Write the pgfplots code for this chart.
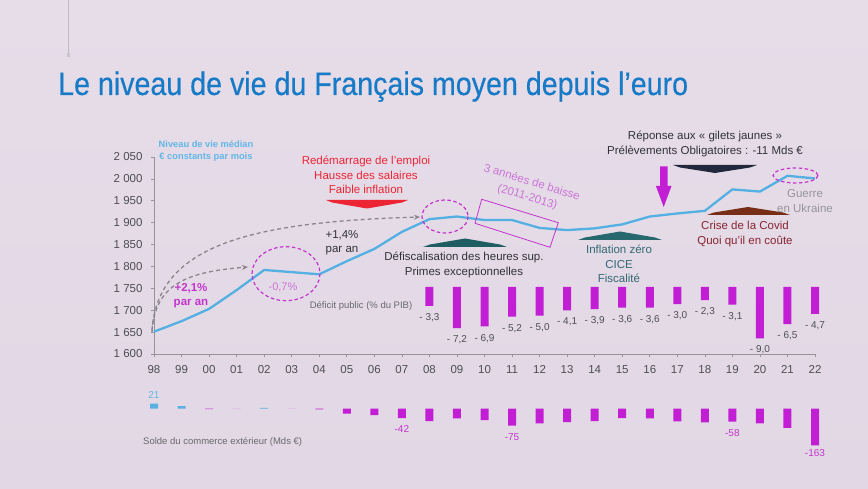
\documentclass[border=0pt]{standalone}
\usepackage{graphicx}
\usepackage{pgfplots}
\pgfplotsset{compat=1.18}
\usepackage{fontspec}
\setmainfont{Liberation Sans}
\newfontfamily\titlefont{Liberation Sans}[FakeBold=0.4]
\usetikzlibrary{arrows.meta}
\definecolor{bgtop}{RGB}{230,221,233}
\definecolor{bgmid}{RGB}{217,204,220}
\definecolor{bgbot}{RGB}{226,216,229}
\definecolor{titleblue}{RGB}{22,122,198}
\definecolor{lineblue}{RGB}{84,176,226}
\definecolor{labblue}{RGB}{98,182,230}
\definecolor{barmag}{RGB}{194,30,212}
\definecolor{txtmag}{RGB}{196,52,204}
\definecolor{lightmag}{RGB}{204,116,214}
\definecolor{ticktxt}{RGB}{78,78,84}
\definecolor{axgrey}{RGB}{150,148,154}
\definecolor{annred}{RGB}{236,36,52}
\definecolor{annteal}{RGB}{30,94,98}
\definecolor{annteal2}{RGB}{38,104,110}
\definecolor{txtteal}{RGB}{50,104,114}
\definecolor{annnavy}{RGB}{34,40,60}
\definecolor{annbrown}{RGB}{120,46,22}
\definecolor{txtcovid}{RGB}{136,36,48}
\definecolor{txtdark}{RGB}{50,50,56}
\definecolor{arrgrey}{RGB}{136,134,140}
\definecolor{guerregrey}{RGB}{150,148,154}
\definecolor{tradeblue}{RGB}{90,176,226}
\tikzset{ann/.style={font=\fontsize{11.5}{14.2}\selectfont, align=center, inner sep=0pt}}
\newcommand\dlab[3]{\node[anchor=north, inner sep=0pt, yshift=-7.5pt, font=\fontsize{10}{12}\selectfont, text=ticktxt] at (axis cs:#1,#2) {#3};}
\begin{document}
\begin{tikzpicture}[x=1pt,y=1pt]
\useasboundingbox (0,0) rectangle (868,489);
\shade[top color=bgtop, middle color=bgmid, bottom color=bgbot] (0,0) rectangle (868,489);

% ---------- main axis: niveau de vie ----------
\begin{axis}[at={(154pt,135pt)}, anchor=south west, scale only axis,
  width=661pt, height=197pt, clip=false,
  xmin=0, xmax=24, ymin=1600, ymax=2050,
  axis x line*=bottom, axis y line*=left,
  axis line style={axgrey, line width=0.8pt},
  tick style={axgrey, line width=0.6pt}, major tick length=3pt, tick align=outside,
  xtick={0,...,24},
  xticklabels={98,99,00,01,02,03,04,05,06,07,08,09,10,11,12,13,14,15,16,17,18,19,20,21,22},
  ytick={1600,1650,...,2050},
  yticklabels={1 600,1 650,1 700,1 750,1 800,1 850,1 900,1 950,2 000,2 050},
  /pgf/number format/assume math mode=true,
  ticklabel style={font=\fontsize{11.5}{13}\selectfont, text=ticktxt},
  yticklabel style={xshift=-5pt},
  xticklabel style={yshift=-5pt},
]
\addplot[lineblue, line width=2.3pt, line join=round] coordinates {
(0,1651)(1,1675)(2,1703)(3,1746)(4,1792)(5,1787)(6,1782)(7,1812)(8,1840)(9,1879)
(10,1908)(11,1914)(12,1906)(13,1906)(14,1888)(15,1883)(16,1887)(17,1896)(18,1914)
(19,1921)(20,1927)(21,1976)(22,1971)(23,2007)(24,2001)};
\end{axis}

% ---------- deficit public axis ----------
\begin{axis}[at={(154pt,135pt)}, anchor=south west, scale only axis,
  width=661pt, height=197pt, clip=false, hide axis,
  xmin=0, xmax=24, ymin=-11.75, ymax=22.8]
\addplot[ybar, bar width=8pt, bar shift=0pt, fill=barmag, draw=none]
coordinates {
(10,-3.3) (11,-7.2) (12,-6.9) (13,-5.2) (14,-5.0)
(15,-4.1) (16,-3.9) (17,-3.6) (18,-3.6) (19,-3.0)
(20,-2.3) (21,-3.1) (22,-9.0) (23,-6.5) (24,-4.7)};
\dlab{10}{-3.3}{- 3,3}\dlab{11}{-7.2}{- 7,2}\dlab{12}{-6.9}{- 6,9}\dlab{13}{-5.2}{- 5,2}
\dlab{14}{-5.0}{- 5,0}\dlab{15}{-4.1}{- 4,1}\dlab{16}{-3.9}{- 3,9}\dlab{17}{-3.6}{- 3,6}
\dlab{18}{-3.6}{- 3,6}\dlab{19}{-3.0}{- 3,0}\dlab{20}{-2.3}{- 2,3}\dlab{21}{-3.1}{- 3,1}
\dlab{22}{-9.0}{- 9,0}\dlab{23}{-6.5}{- 6,5}\dlab{24}{-4.7}{- 4,7}
\end{axis}

% ---------- solde commerce exterieur ----------
\begin{axis}[at={(154pt,29pt)}, anchor=south west, scale only axis,
  width=661pt, height=80pt, clip=false, hide axis,
  xmin=0, xmax=24, ymin=-226.9, ymax=125.6]
\addplot[ybar, bar width=8pt, bar shift=0pt, fill=tradeblue, draw=none]
coordinates {(0,21)(1,11)(4,3)};
\addplot[ybar, bar width=8pt, bar shift=0pt, fill=barmag, draw=none]
coordinates {(2,-3)(6,-4)(7,-23)(8,-29)(9,-42)(10,-56)(11,-44)(12,-51)(13,-75)(14,-66)
(15,-60)(16,-56)(17,-42)(18,-44)(19,-57)(20,-61)(21,-58)(22,-65)(23,-85)(24,-162)};
\addplot[ybar, bar width=8pt, bar shift=0pt, fill=barmag, fill opacity=0.3, draw=none]
coordinates {(3,-3)(5,-1.5)};
\node[text=labblue, font=\fontsize{10}{12}\selectfont] at (axis cs:0,61) {21};
\node[text=txtmag, font=\fontsize{10}{12}\selectfont] at (axis cs:9,-92) {-42};
\node[text=txtmag, font=\fontsize{10}{12}\selectfont] at (axis cs:13,-125) {-75};
\node[text=txtmag, font=\fontsize{10}{12}\selectfont] at (axis cs:21,-110) {-58};
\node[text=txtmag, font=\fontsize{10}{12}\selectfont] at (axis cs:24,-197) {-163};
\end{axis}

% ---------- annotations (pixel coordinates, y downwards) ----------
\begin{scope}[shift={(0,489)}, yscale=-1]
% decorative line
\draw[black!25, line width=0.6pt] (68,0) -- (68,54);
\fill[black!22] (66.5,53) rectangle (69.5,57);
% title
\node[anchor=base west, inner sep=0pt, text=titleblue] at (58,95)
  {\resizebox{630pt}{23.5pt}{\titlefont Le niveau de vie du Français moyen depuis l’euro}};
% series label
\node[text=labblue, font=\bfseries\fontsize{9.3}{12}\selectfont, align=center, inner sep=0pt]
  at (206,151) {Niveau de vie médian\\€ constants par mois};
% red annotation
\node[ann, text=annred] at (366,175) {Redémarrage de l’emploi\\Hausse des salaires\\Faible inflation};
\fill[annred] (326,200) -- (408,200) -- (402,202.5) -- (367,208.5) -- (332,202.5) -- cycle;
% defiscalisation
\fill[annteal] (423,247) -- (507,247) -- (500,244.5) -- (465,238.5) -- (430,244.5) -- cycle;
\node[ann, text=txtdark] at (464,265) {Défiscalisation des heures sup.\\Primes exceptionnelles};
% inflation zero
\fill[annteal2] (578,240) -- (662,240) -- (655,237.5) -- (620,231.5) -- (585,237.5) -- cycle;
\node[ann, text=txtteal] at (619,264) {Inflation zéro\\CICE\\Fiscalité};
% gilets jaunes
\node[ann, text=txtdark] at (705,144) {Réponse aux « gilets jaunes »\\Prélèvements Obligatoires : -11 Mds €};
\fill[annnavy] (673,165) -- (757,165) -- (750,167.5) -- (715,173) -- (680,167.5) -- cycle;
\fill[barmag] (660,166.5) -- (667.5,166.5) -- (667.5,186) -- (671.5,186) -- (663.7,207) -- (655.9,186) -- (660,186) -- cycle;
% covid
\fill[annbrown] (707,215) -- (790,215) -- (783,212.5) -- (748,207) -- (714,212.5) -- cycle;
\node[ann, text=txtcovid] at (745,234) {Crise de la Covid\\Quoi qu’il en coûte};
% ukraine
\node[ann, text=guerregrey] at (805,201) {Guerre\\en Ukraine};
\draw[txtmag, line width=1.2pt, dash pattern=on 3.5pt off 2.5pt] (795.5,175.5) ellipse [x radius=22.5, y radius=7.5];
% dashed circles
\draw[txtmag, line width=1.2pt, dash pattern=on 3.5pt off 2.5pt] (445,216.5) ellipse [x radius=23, y radius=16.5];
\draw[txtmag, line width=1.2pt, dash pattern=on 3.5pt off 2.5pt] (286,273.7) ellipse [x radius=34, y radius=27];
\node[text=lightmag, font=\fontsize{11}{13}\selectfont, inner sep=0pt] at (283,287) {-0,7\%};
% 3 annees de baisse
\draw[txtmag, line width=0.8pt] (481.7,199.3) -- (558.3,222.7) -- (550,247.3) -- (475,223.3) -- cycle;
\node[text=lightmag, font=\fontsize{11.5}{15}\selectfont, rotate=-17, inner sep=0pt, align=center]
  at (529.5,190) {3 années de baisse\\(2011-2013)};
% grey dashed arrows
\draw[arrgrey, line width=1.3pt, dash pattern=on 4pt off 3pt, -{Stealth[length=6pt,width=5pt]}]
  (152,332) .. controls (155,285) and (185,272) .. (248,267);
\draw[arrgrey, line width=1.3pt, dash pattern=on 4pt off 3pt, -{Stealth[length=6pt,width=5pt]}]
  (152,330) .. controls (158,245) and (250,222) .. (420,217);
% growth labels
\node[text=txtmag, font=\bfseries\fontsize{11.5}{14}\selectfont, align=center, inner sep=0pt] at (191,296) {+2,1\%\\par an};
\node[text=txtdark, font=\fontsize{11.5}{14}\selectfont, align=center, inner sep=0pt] at (342,243) {+1,4\%\\par an};
% section labels
\node[text=ticktxt!85, font=\fontsize{9.5}{11}\selectfont, inner sep=0pt] at (361,306) {Déficit public (\% du PIB)};
\node[text=ticktxt!85, font=\fontsize{9.5}{11}\selectfont, inner sep=0pt, anchor=west] at (143,442) {Solde du commerce extérieur (Mds €)};
\end{scope}
\end{tikzpicture}
\end{document}
